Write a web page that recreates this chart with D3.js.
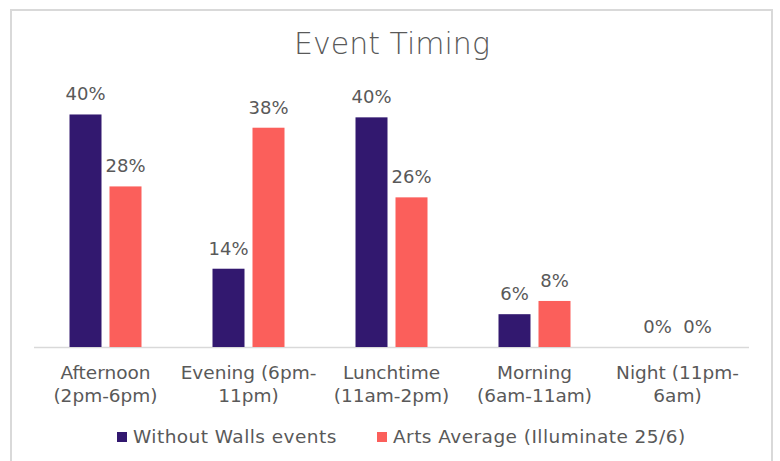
<!DOCTYPE html>
<html>
<head>
<meta charset="utf-8">
<script src="https://cdn.jsdelivr.net/npm/d3@7/dist/d3.min.js"></script>
<style>
  html, body { margin: 0; padding: 0; background: #ffffff; }
  svg { display: block; }
  text { font-family: "DejaVu Sans", "Noto Sans", sans-serif; fill: #595959; }
</style>
</head>
<body>
<svg id="chart" width="780" height="461"></svg>
<script>
// Share of events by time of day
const categories = [
  ["Afternoon", "(2pm-6pm)"],
  ["Evening (6pm-", "11pm)"],
  ["Lunchtime", "(11am-2pm)"],
  ["Morning", "(6am-11am)"],
  ["Night (11pm-", "6am)"]
];
const seriesNames = ["Without Walls events", "Arts Average (Illuminate 25/6)"];
const withoutWalls = [0.404, 0.136, 0.399, 0.057, 0];
const artsAverage = [0.279, 0.381, 0.260, 0.080, 0];
const seriesColors = ["#32186f", "#fb5f5b"];

const svg = d3.select("#chart");
const W = 780, H = 461;

// chart frame
svg.append("rect")
  .attr("x", 11).attr("y", 10)
  .attr("width", 761).attr("height", H)
  .attr("fill", "#ffffff")
  .attr("stroke", "#d9d9d9").attr("stroke-width", 2);

// title
svg.append("text")
  .attr("x", 392).attr("y", 54)
  .attr("text-anchor", "middle")
  .style("font-size", "30px")
  .style("font-weight", 200)
  .text("Event Timing");

const plot = { left: 34, right: 749, top: 88, bottom: 347 };

const keys = categories.map((c, i) => i);
const x0 = d3.scaleBand().domain(keys).range([plot.left, plot.right]).padding(0);
const x1 = d3.scaleBand().domain([0, 1])
  .range([0, x0.bandwidth()])
  .paddingInner(0.2).paddingOuter(0.8875);
const y = d3.scaleLinear().domain([0, 0.45]).range([plot.bottom, plot.top]);

const rows = keys.map(i => ({ i, values: [withoutWalls[i], artsAverage[i]] }));

// baseline
svg.append("line")
  .attr("x1", plot.left).attr("x2", plot.right)
  .attr("y1", plot.bottom + 0.5).attr("y2", plot.bottom + 0.5)
  .attr("stroke", "#d9d9d9").attr("stroke-width", 1.5);

const groups = svg.append("g").selectAll("g")
  .data(rows).join("g")
  .attr("transform", d => `translate(${x0(d.i)},0)`);

groups.selectAll("rect")
  .data(d => d.values.map((v, s) => ({ v, s })))
  .join("rect")
  .attr("x", d => x1(d.s))
  .attr("width", x1.bandwidth())
  .attr("y", d => y(d.v))
  .attr("height", d => plot.bottom - y(d.v))
  .attr("fill", d => seriesColors[d.s]);

const pct = d3.format(".0%");
groups.selectAll("text.val")
  .data(d => d.values.map((v, s) => ({ v, s })))
  .join("text")
  .attr("class", "val")
  .attr("x", d => x1(d.s) + x1.bandwidth() / 2)
  .attr("y", d => y(d.v) - 14)
  .attr("text-anchor", "middle")
  .style("font-size", "18px")
  .text(d => pct(d.v));

// category labels (two lines)
const xAxis = d3.axisBottom(x0).tickSize(0).tickFormat(() => "");
const axisG = svg.append("g")
  .attr("transform", `translate(0,${plot.bottom})`)
  .call(xAxis);
axisG.select(".domain").remove();
axisG.selectAll(".tick").each(function (i) {
  const t = d3.select(this).append("text")
    .attr("text-anchor", "middle")
    .style("font-size", "18.5px");
  categories[i].forEach((line, k) => {
    t.append("tspan").attr("x", 0).attr("y", 32 + k * 23).text(line);
  });
});

// legend
const legend = svg.append("g");
const legendItems = [
  { name: seriesNames[0], color: seriesColors[0], x: 117 },
  { name: seriesNames[1], color: seriesColors[1], x: 377 }
];
legendItems.forEach(item => {
  legend.append("rect")
    .attr("x", item.x).attr("y", 432)
    .attr("width", 10).attr("height", 10)
    .attr("fill", item.color);
  legend.append("text")
    .attr("x", item.x + 16).attr("y", 443)
    .style("font-size", "18.5px")
    .style("letter-spacing", "0.45px")
    .text(item.name);
});
</script>
</body>
</html>
